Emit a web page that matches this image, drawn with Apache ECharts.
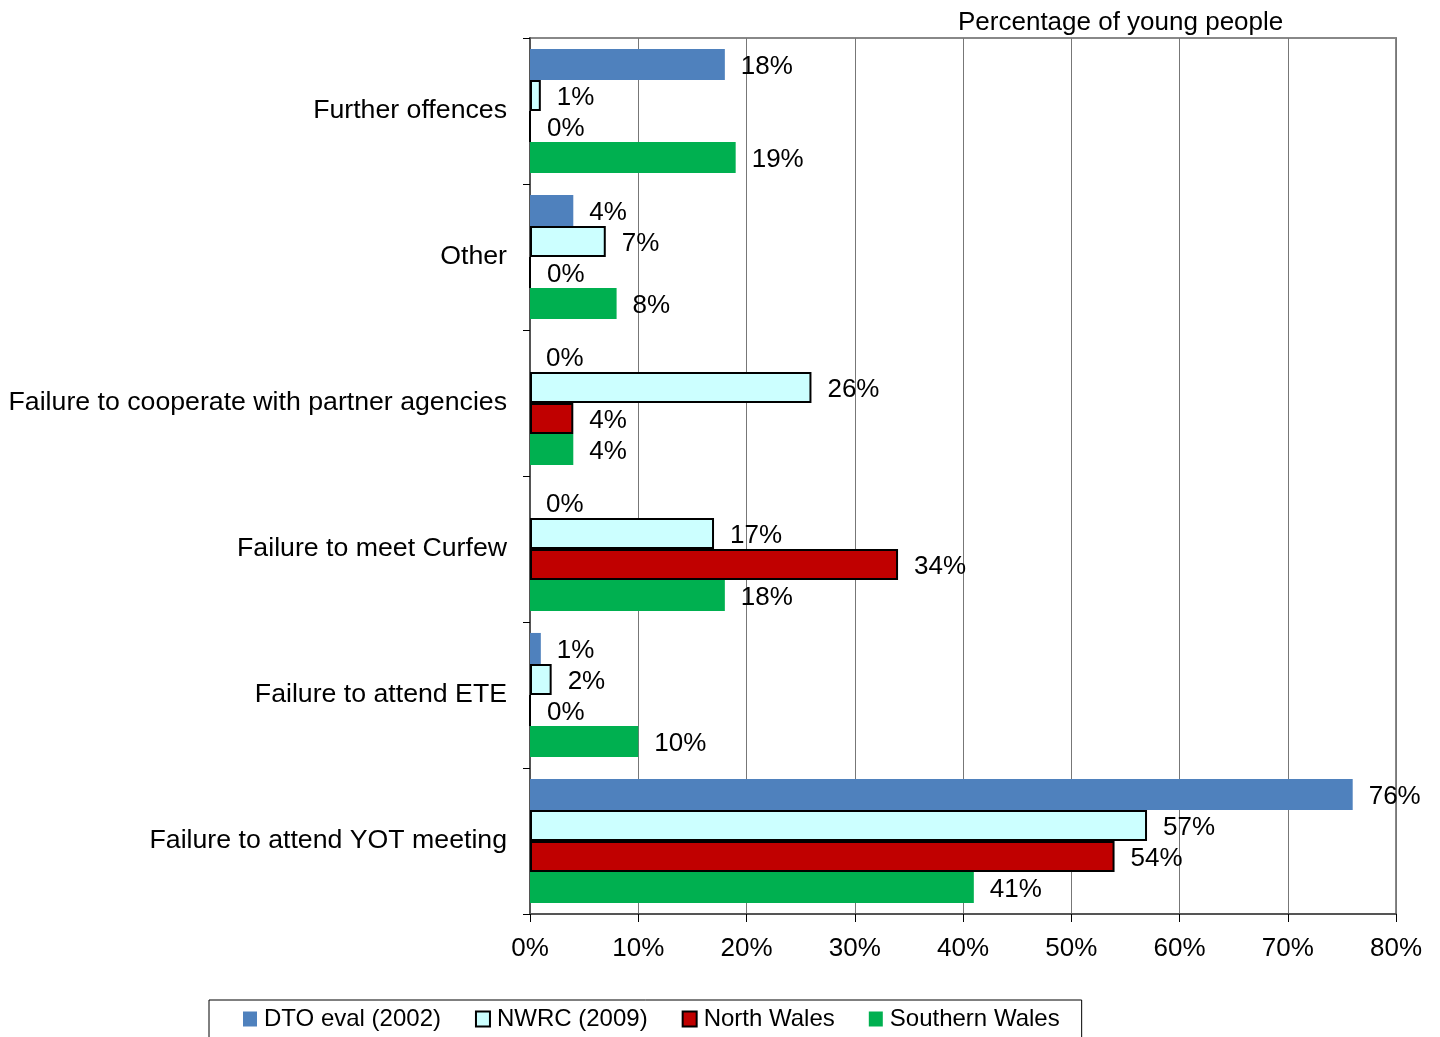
<!DOCTYPE html>
<html>
<head>
<meta charset="utf-8">
<script src="https://cdn.jsdelivr.net/npm/echarts@6/dist/echarts.min.js"></script>
<style>
  html, body { margin: 0; padding: 0; background: #fff; }
  #chart { width: 1440px; height: 1037px; }
</style>
</head>
<body>
<div id="chart"></div>
<script>
// categories, top to bottom
const categories = [
  'Further offences',
  'Other',
  'Failure to cooperate with partner agencies',
  'Failure to meet Curfew',
  'Failure to attend ETE',
  'Failure to attend YOT meeting'
];
const dtoEval = [18, 4, 0, 0, 1, 76];
const nwrc = [1, 7, 26, 17, 2, 57];
const northWales = [0, 0, 4, 34, 0, 54];
const southernWales = [19, 8, 4, 18, 10, 41];
const xTicks = [0, 10, 20, 30, 40, 50, 60, 70, 80];

const chart = echarts.init(document.getElementById('chart'));

const FONT = 'Liberation Sans, Arial, sans-serif';

const labelOpt = {
  show: true,
  position: 'right',
  distance: 16,
  offset: [0, 2],
  formatter: '{c}%',
  fontFamily: FONT,
  fontSize: 26,
  color: '#000'
};

const mkSeries = (name, data, color, border) => ({
  name,
  type: 'bar',
  data,
  barGap: '0%',
  barCategoryGap: '15%',
  itemStyle: {
    color,
    borderColor: border ? '#000' : color,
    borderWidth: border ? 2 : 0
  },
  label: labelOpt
});

chart.setOption({
  animation: false,
  backgroundColor: '#fff',
  title: {
    text: 'Percentage of young people',
    left: 953,
    top: 5,
    textStyle: {
      fontFamily: FONT,
      fontSize: 26,
      fontWeight: 'normal',
      color: '#000'
    }
  },
  legend: {
    left: 209,
    top: 1000,
    padding: [7, 22, 40, 34],
    itemGap: 34,
    itemWidth: 14,
    itemHeight: 15,
    borderColor: '#000',
    borderWidth: 1,
    icon: 'rect',
    textStyle: {
      fontFamily: 'Liberation Sans Narrow, Arial Narrow, sans-serif',
      fontSize: 24,
      color: '#000',
      padding: [0, 0, 0, 2]
    },
    data: ['DTO eval (2002)', 'NWRC (2009)', 'North Wales', 'Southern Wales']
  },
  grid: {
    left: 530,
    right: 44,
    top: 38,
    bottom: 123,
    show: true,
    borderColor: '#888',
    borderWidth: 2
  },
  xAxis: {
    type: 'value',
    min: 0,
    max: 80,
    interval: 10,
    axisLine: { show: true, lineStyle: { color: '#555', width: 2 } },
    axisTick: { show: true, length: 8, lineStyle: { color: '#000', width: 1 } },
    splitLine: { show: true, lineStyle: { color: '#777', width: 1 } },
    axisLabel: {
      margin: 22,
      fontFamily: FONT,
      fontSize: 26,
      color: '#000',
      formatter: v => (xTicks.includes(v) ? v + '%' : '')
    }
  },
  yAxis: {
    type: 'category',
    data: categories,
    inverse: true,
    axisLine: { show: true, lineStyle: { color: '#555', width: 2 } },
    axisTick: { show: true, length: 7, lineStyle: { color: '#000', width: 1 } },
    axisLabel: {
      margin: 23,
      padding: [4, 0, 0, 0],
      fontFamily: FONT,
      fontSize: 26.7,
      color: '#000'
    }
  },
  series: [
    mkSeries('DTO eval (2002)', dtoEval, '#4F81BD', false),
    mkSeries('NWRC (2009)', nwrc, '#CCFFFF', true),
    mkSeries('North Wales', northWales, '#C00000', true),
    mkSeries('Southern Wales', southernWales, '#00B050', false)
  ]
});
</script>
</body>
</html>
